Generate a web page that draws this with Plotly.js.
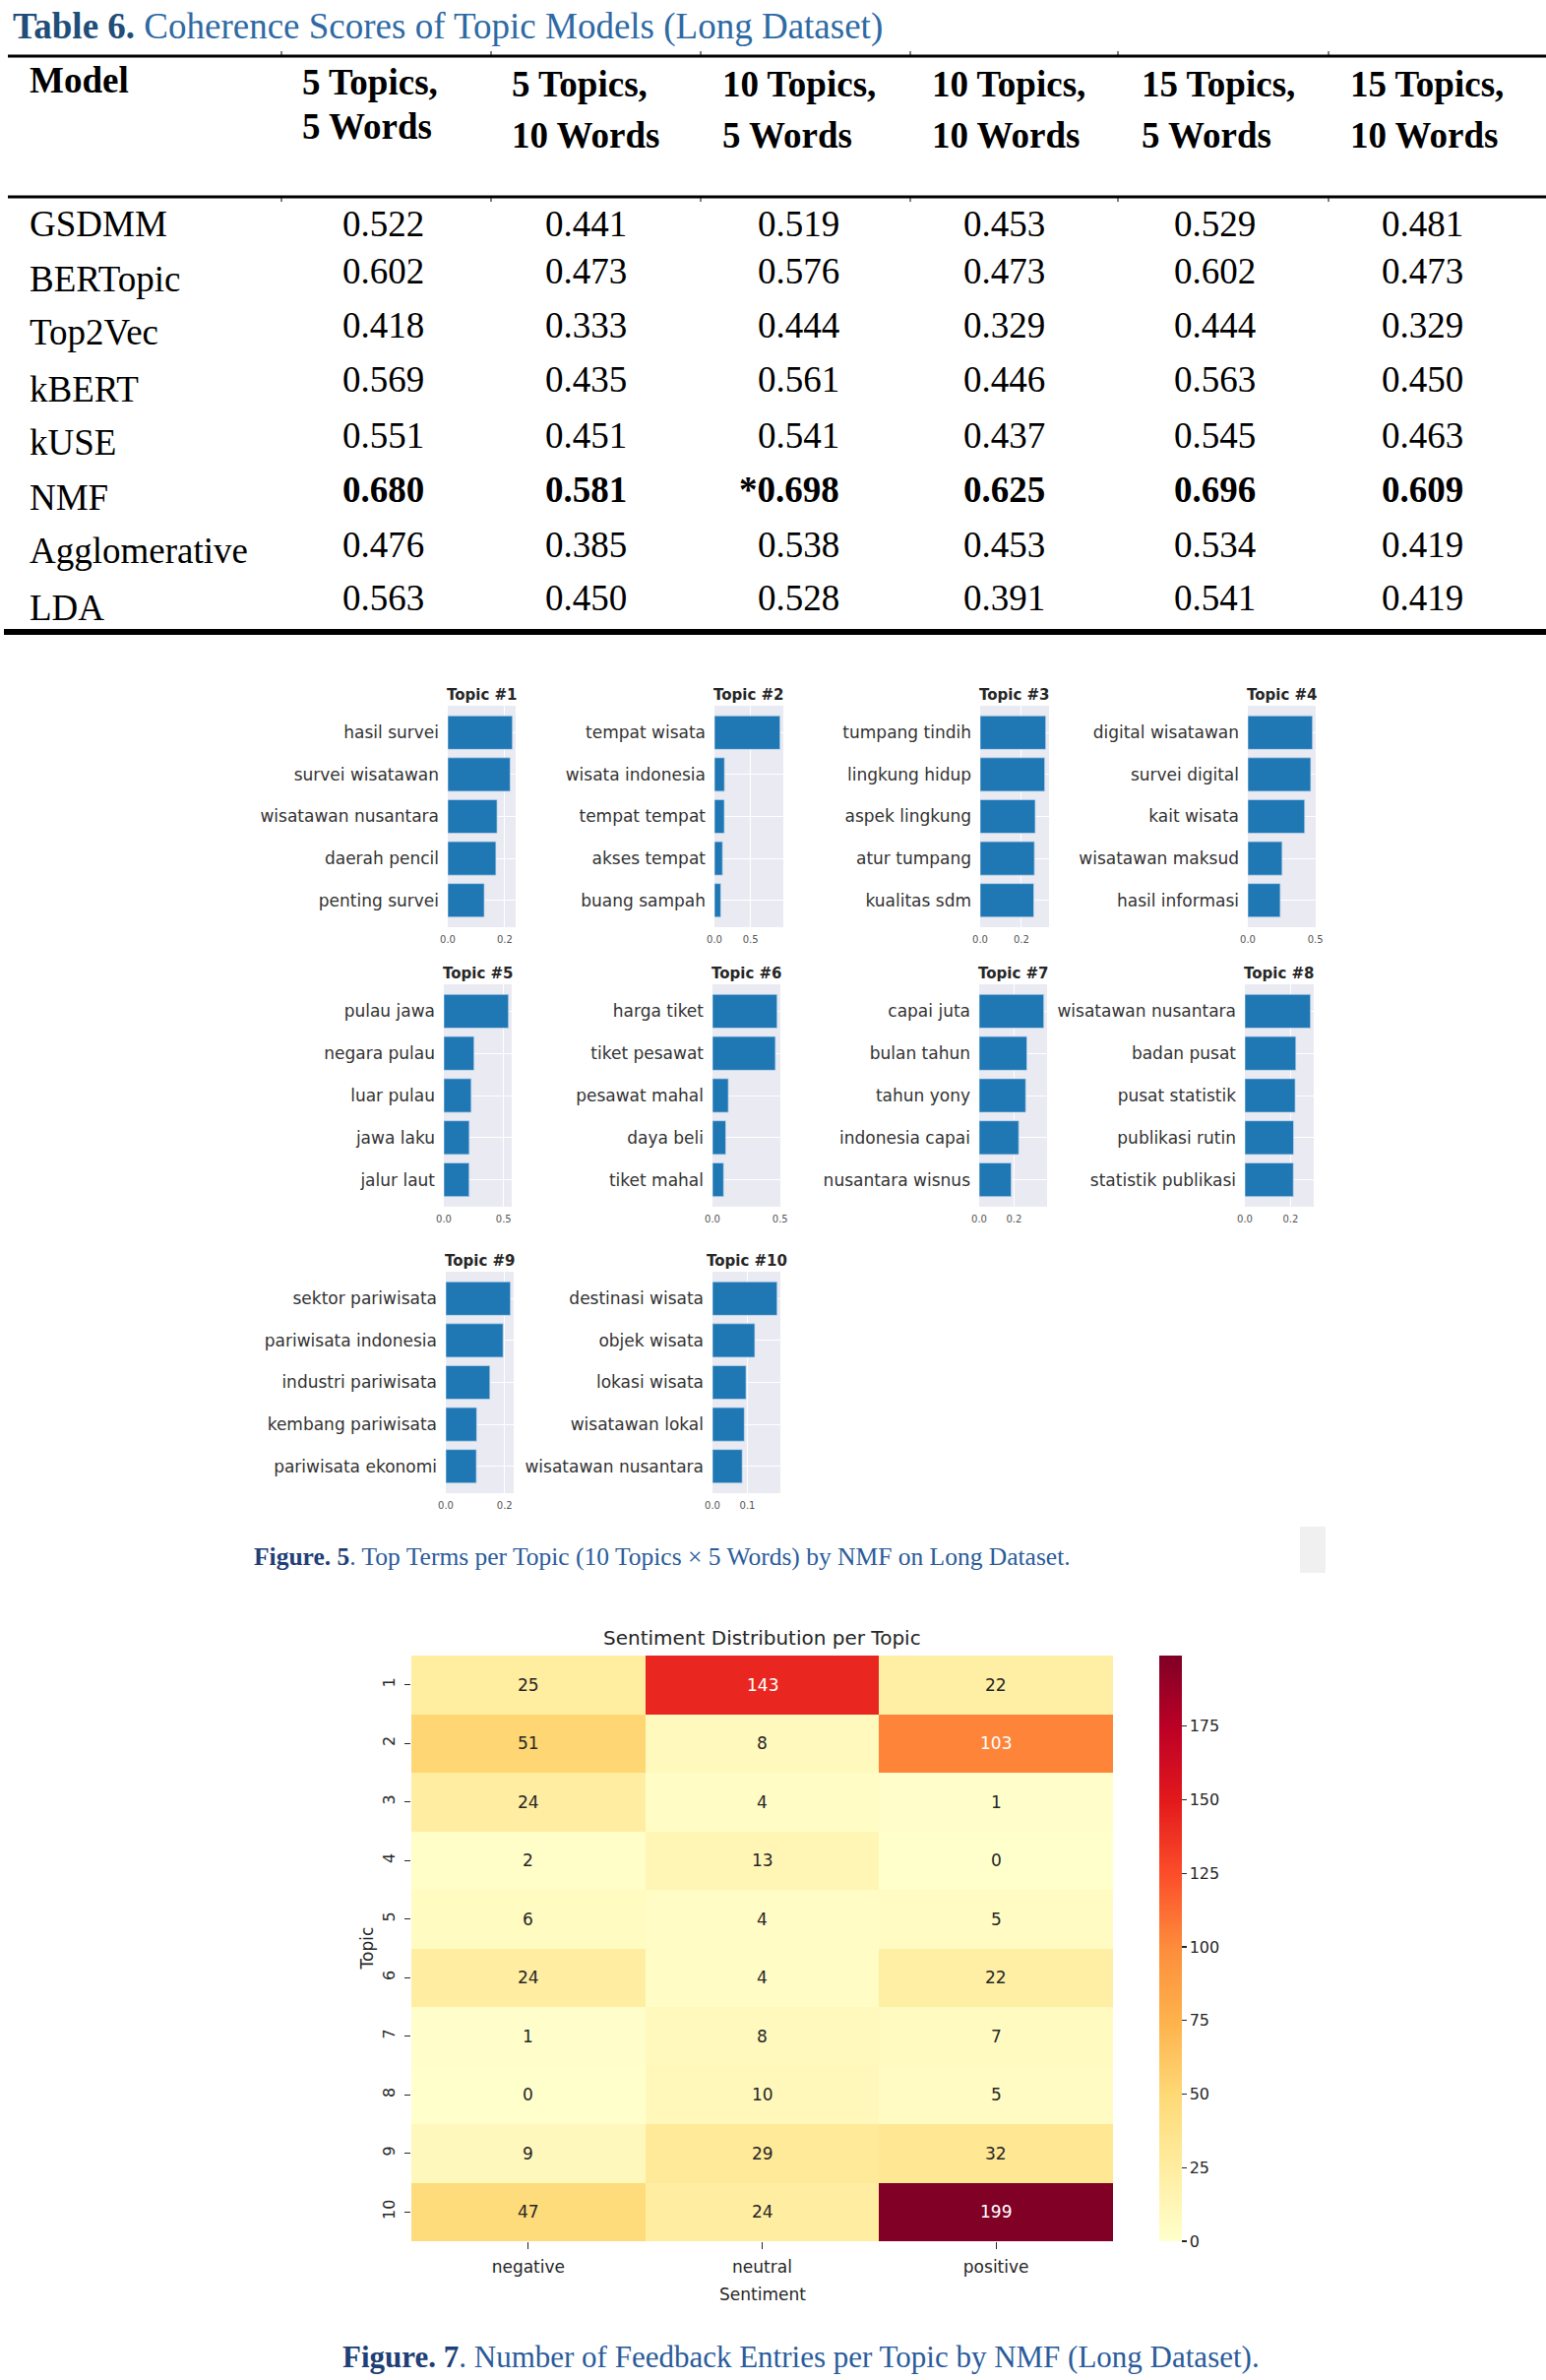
<!DOCTYPE html>
<html><head><meta charset="utf-8">
<script src="https://cdn.plot.ly/plotly-3.0.1.min.js"></script>
<style>html,body{margin:0;padding:0;background:#fff;} #chart{width:1571px;height:2418px;}</style>
</head><body><div id="chart"></div>
<script>
// ---------------- DATA ----------------
// Table 6
const tableModels = ['GSDMM','BERTopic','Top2Vec','kBERT','kUSE','NMF','Agglomerative','LDA'];
const tableHeaderTop = ['5 Topics,','5 Topics,','10 Topics,','10 Topics,','15 Topics,','15 Topics,'];
const tableHeaderBottom = ['5 Words','10 Words','5 Words','10 Words','5 Words','10 Words'];
const tableScores = [
  [0.522,0.441,0.519,0.453,0.529,0.481],
  [0.602,0.473,0.576,0.473,0.602,0.473],
  [0.418,0.333,0.444,0.329,0.444,0.329],
  [0.569,0.435,0.561,0.446,0.563,0.450],
  [0.551,0.451,0.541,0.437,0.545,0.463],
  [0.680,0.581,0.698,0.625,0.696,0.609],
  [0.476,0.385,0.538,0.453,0.534,0.419],
  [0.563,0.450,0.528,0.391,0.541,0.419]
];
const tableBoldModel = 'NMF';
const tableStarred = [[5,2]];

// Figure 5: top terms per topic
const topicNames = ['Topic #1','Topic #2','Topic #3','Topic #4','Topic #5','Topic #6','Topic #7','Topic #8','Topic #9','Topic #10'];
const topicTerms = [
  ['hasil survei','survei wisatawan','wisatawan nusantara','daerah pencil','penting survei'],
  ['tempat wisata','wisata indonesia','tempat tempat','akses tempat','buang sampah'],
  ['tumpang tindih','lingkung hidup','aspek lingkung','atur tumpang','kualitas sdm'],
  ['digital wisatawan','survei digital','kait wisata','wisatawan maksud','hasil informasi'],
  ['pulau jawa','negara pulau','luar pulau','jawa laku','jalur laut'],
  ['harga tiket','tiket pesawat','pesawat mahal','daya beli','tiket mahal'],
  ['capai juta','bulan tahun','tahun yony','indonesia capai','nusantara wisnus'],
  ['wisatawan nusantara','badan pusat','pusat statistik','publikasi rutin','statistik publikasi'],
  ['sektor pariwisata','pariwisata indonesia','industri pariwisata','kembang pariwisata','pariwisata ekonomi'],
  ['destinasi wisata','objek wisata','lokasi wisata','wisatawan lokal','wisatawan nusantara']
];
const topicWeights = [
  [0.227,0.219,0.173,0.169,0.128],
  [0.911,0.139,0.137,0.112,0.087],
  [0.318,0.313,0.267,0.263,0.260],
  [0.479,0.466,0.421,0.254,0.240],
  [0.541,0.253,0.229,0.213,0.212],
  [0.478,0.465,0.117,0.098,0.082],
  [0.371,0.274,0.267,0.227,0.184],
  [0.287,0.223,0.220,0.213,0.212],
  [0.220,0.195,0.150,0.105,0.104],
  [0.185,0.121,0.096,0.091,0.085]
];

// Figure 7: sentiment distribution per topic
const sentimentLabels = ['negative','neutral','positive'];
const sentimentTopics = [1,2,3,4,5,6,7,8,9,10];
const sentimentCounts = [
  [25,143,22],
  [51,8,103],
  [24,4,1],
  [2,13,0],
  [6,4,5],
  [24,4,22],
  [1,8,7],
  [0,10,5],
  [9,29,32],
  [47,24,199]
];

// ---------------- LAYOUT HELPERS ----------------
const W = 1571, H = 2418;
const fx = p => p / W;
const fy = p => 1 - p / H;
const SERIF = 'Liberation Serif, Times New Roman, serif';
const SANS = 'DejaVu Sans, sans-serif';

const data = [];
const annotations = [];
const shapes = [];
const layout = {
  width: W, height: H,
  margin: {l:0, r:0, t:0, b:0, pad:0},
  paper_bgcolor: '#ffffff',
  plot_bgcolor: '#EAEAF2',
  showlegend: false,
  font: {family: SANS, color: '#262626'}
};

function txt(text, x, y, opts) {
  annotations.push(Object.assign({
    text: text, x: fx(x), y: fy(y), xref: 'paper', yref: 'paper',
    showarrow: false, xanchor: 'left', yanchor: 'middle',
    font: {family: SERIF, size: 37, color: '#000'}
  }, opts || {}));
}
function hline(x0, x1, y, w) {
  shapes.push({type:'line', xref:'paper', yref:'paper', x0:fx(x0), x1:fx(x1), y0:fy(y), y1:fy(y), line:{color:'#000', width:w}});
}
function vline(x, y0, y1, w) {
  shapes.push({type:'line', xref:'paper', yref:'paper', x0:fx(x), x1:fx(x), y0:fy(y0), y1:fy(y1), line:{color:'#000', width:w}});
}

// ---------------- TABLE 6 ----------------
txt('<span style="color:#1F4E79"><b>Table 6.</b></span><span style="color:#2E6AA4"> Coherence Scores of Topic Models (Long Dataset)</span>', 11, 27);
hline(8, 1571, 57, 3);
hline(8, 1571, 200, 3);
hline(4, 1571, 642, 6);
const colBounds = [286, 499, 712, 925, 1136, 1350];
colBounds.forEach(b => { vline(b, 52, 57, 1); vline(b, 200, 205, 1); });

txt('<b>Model</b>', 28, 82);
const headerLeft = [305, 518, 732, 945, 1158, 1370];
tableHeaderTop.forEach((h, i) => {
  const y1 = i === 0 ? 83 : 85;
  const y2 = i === 0 ? 128 : 138;
  txt('<b>' + h + '</b>', headerLeft[i], y1);
  txt('<b>' + tableHeaderBottom[i] + '</b>', headerLeft[i], y2);
});
const labelY = [227, 283, 338, 395, 450, 505, 560, 617];
const valueY = [227, 275, 330, 385, 442, 497, 553, 608];
const valueRight = [433, 639, 855, 1064, 1278, 1489];
tableModels.forEach((m, r) => {
  txt(m, 28, labelY[r]);
  tableScores[r].forEach((v, c) => {
    let s = v.toFixed(3);
    if (tableStarred.some(p => p[0] === r && p[1] === c)) s = '*' + s;
    if (m === tableBoldModel) s = '<b>' + s + '</b>';
    txt(s, valueRight[c], valueY[r], {xanchor: 'right'});
  });
});

// ---------------- FIGURE 5: bar small multiples ----------------
const barBoxes = [
  [455,524,717,942],[726,796,717,942],[996,1066,717,942],[1268,1337,717,942],
  [451,520,1000,1226],[724,793,1000,1226],[995,1064,1000,1226],[1265,1335,1000,1226],
  [453,522,1292,1517],[724,793,1292,1517]
];
const barTickStep = [0.2,0.5,0.2,0.5,0.5,0.5,0.2,0.2,0.2,0.1];
topicNames.forEach((name, i) => {
  const n = i + 1;
  const sx = n === 1 ? '' : String(n);
  const b = barBoxes[i];
  const maxW = Math.max.apply(null, topicWeights[i]);
  data.push({
    type: 'bar', orientation: 'h',
    x: topicWeights[i], y: topicTerms[i],
    xaxis: 'x' + sx, yaxis: 'y' + sx,
    width: 0.8,
    marker: {color: '#1f77b4', line: {color: 'rgba(200,220,240,0.7)', width: 1}},
    hoverinfo: 'skip'
  });
  layout['xaxis' + sx] = {
    domain: [fx(b[0]), fx(b[1])], anchor: 'y' + sx,
    range: [0, maxW * 1.05], tick0: 0, dtick: barTickStep[i], tickformat: '.1f',
    showgrid: true, gridcolor: '#ffffff', gridwidth: 1, zeroline: false, showline: false,
    ticks: '', ticklabelstandoff: 5,
    tickfont: {family: SANS, size: 10, color: '#555'}, fixedrange: true
  };
  layout['yaxis' + sx] = {
    domain: [fy(b[3]), fy(b[2])], anchor: 'x' + sx,
    type: 'category', range: [4.64, -0.64],
    showgrid: true, gridcolor: '#ffffff', gridwidth: 1, zeroline: false, showline: false,
    ticks: '', ticklabelstandoff: 8,
    tickfont: {family: SANS, size: 17, color: '#333'}, fixedrange: true
  };
  annotations.push({
    text: '<b>' + name + '</b>', xref: 'paper', yref: 'paper',
    x: fx((b[0] + b[1]) / 2), y: fy(b[2] - 11), xanchor: 'center', yanchor: 'middle',
    showarrow: false, font: {family: SANS, size: 15, color: '#262626'}
  });
});
// caption Figure 5
txt('<span style="color:#1F3F77"><b>Figure. 5</b></span><span style="color:#2B5C9B">. Top Terms per Topic (10 Topics × 5 Words) by NMF on Long Dataset.</span>', 256, 1581, {font: {family: SERIF, size: 25.5, color: '#2B5C9B'}});
shapes.push({type:'rect', xref:'paper', yref:'paper', x0:fx(1321), x1:fx(1347), y0:fy(1598), y1:fy(1551), fillcolor:'#f0f0f0', line:{width:0}});

// ---------------- FIGURE 7: heatmap ----------------
const hm = {x0: 418, x1: 1131, y0: 1682, y1: 2277};
const ylOrRd = [
  [0.0,'#ffffcc'],[0.125,'#ffeda0'],[0.25,'#fed976'],[0.375,'#feb24c'],
  [0.5,'#fd8d3c'],[0.625,'#fc4e2a'],[0.75,'#e31a1c'],[0.875,'#bd0026'],[1.0,'#800026']
];
const sentIdx = sentimentLabels.map((s, i) => i);
data.push({
  type: 'heatmap', x: sentIdx, y: sentimentTopics, z: sentimentCounts,
  xaxis: 'x11', yaxis: 'y11', zmin: 0, zmax: 199, colorscale: ylOrRd,
  hoverinfo: 'skip',
  colorbar: {
    x: fx(1178), xanchor: 'left', xpad: 0, y: fy((hm.y0 + hm.y1) / 2), yanchor: 'middle', ypad: 0,
    len: hm.y1 - hm.y0, lenmode: 'pixels', thickness: 23, outlinewidth: 0,
    tickvals: [0,25,50,75,100,125,150,175], ticks: 'outside', ticklen: 5, tickwidth: 1.2, tickcolor: '#262626',
    tickfont: {family: SANS, size: 16, color: '#262626'}
  }
});
layout.xaxis11 = {
  domain: [fx(hm.x0), fx(hm.x1)], anchor: 'y11', type: 'linear',
  range: [-0.5, sentimentLabels.length - 0.5],
  tickmode: 'array', tickvals: sentIdx, ticktext: sentimentLabels,
  showgrid: false, zeroline: false, showline: false,
  ticks: 'outside', ticklen: 7, tickwidth: 1.2, tickcolor: '#262626', ticklabelstandoff: 4,
  tickfont: {family: SANS, size: 17, color: '#262626'}, fixedrange: true
};
layout.yaxis11 = {
  domain: [fy(hm.y1), fy(hm.y0)], anchor: 'x11', type: 'linear',
  range: [sentimentTopics.length + 0.5, 0.5],
  tickmode: 'array', tickvals: sentimentTopics, ticktext: sentimentTopics.map(String),
  showgrid: false, zeroline: false, showline: false,
  ticks: 'outside', ticklen: 6, tickwidth: 1.2, tickcolor: '#262626', tickangle: -90, ticklabelstandoff: 4,
  tickfont: {family: SANS, size: 16, color: '#262626'}, fixedrange: true
};
sentimentCounts.forEach((row, r) => {
  row.forEach((v, c) => {
    annotations.push({
      text: String(v), x: sentIdx[c], y: sentimentTopics[r], xref: 'x11', yref: 'y11',
      showarrow: false, xanchor: 'center', yanchor: 'middle',
      font: {family: SANS, size: 17, color: v > 90 ? '#ffffff' : '#262626'}
    });
  });
});
annotations.push({
  text: 'Sentiment Distribution per Topic', xref: 'paper', yref: 'paper',
  x: fx((hm.x0 + hm.x1) / 2), y: fy(1664), xanchor: 'center', yanchor: 'middle', showarrow: false,
  font: {family: SANS, size: 20, color: '#262626'}
});
annotations.push({
  text: 'Sentiment', xref: 'paper', yref: 'paper',
  x: fx((hm.x0 + hm.x1) / 2), y: fy(2331), xanchor: 'center', yanchor: 'middle', showarrow: false,
  font: {family: SANS, size: 17, color: '#262626'}
});
annotations.push({
  text: 'Topic', xref: 'paper', yref: 'paper', textangle: -90,
  x: fx(372), y: fy((hm.y0 + hm.y1) / 2), xanchor: 'center', yanchor: 'middle', showarrow: false,
  font: {family: SANS, size: 17, color: '#262626'}
});
// caption Figure 7
txt('<span style="color:#1F3F77"><b>Figure. 7</b></span><span style="color:#2B5C9B">. Number of Feedback Entries per Topic by NMF (Long Dataset).</span>', 346, 2394, {font: {family: SERIF, size: 31, color: '#2B5C9B'}});

layout.annotations = annotations;
layout.shapes = shapes;
Plotly.newPlot('chart', data, layout, {displayModeBar: false, staticPlot: true});
</script>
</body></html>
